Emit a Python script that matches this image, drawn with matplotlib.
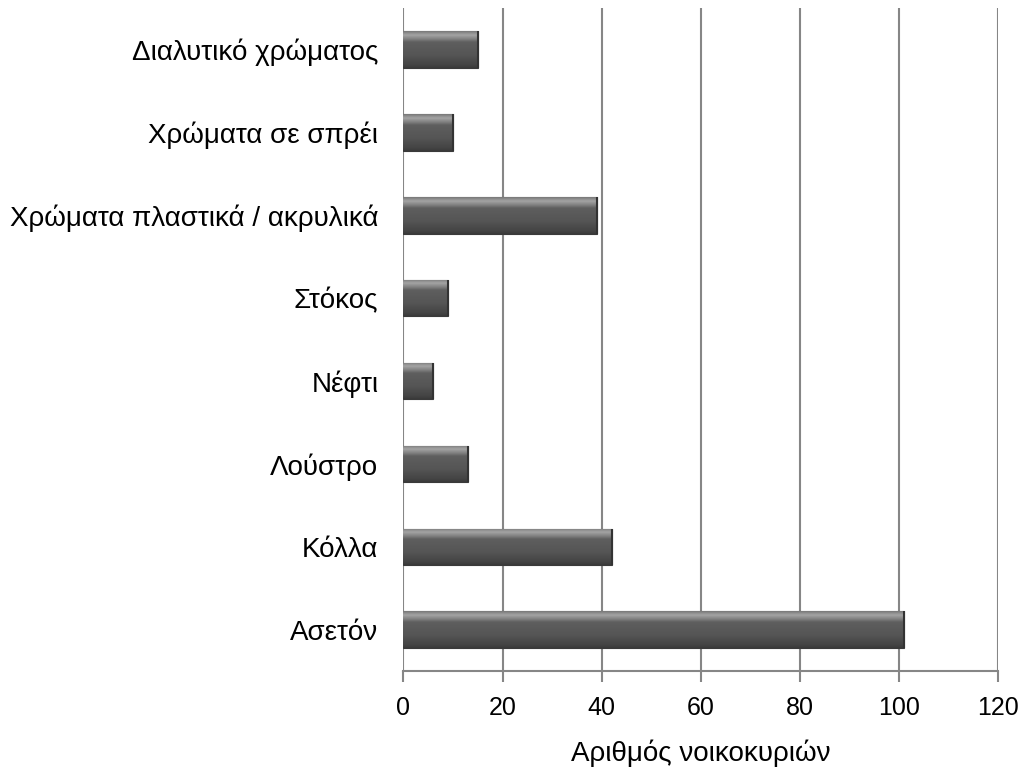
import numpy as np
import matplotlib.pyplot as plt
from matplotlib.colors import LinearSegmentedColormap

categories = ['Ασετόν', 'Κόλλα', 'Λούστρο', 'Νέφτι', 'Στόκος',
              'Χρώματα πλαστικά / ακρυλικά', 'Χρώματα σε σπρέι',
              'Διαλυτικό χρώματος']
households = [101, 42, 13, 6, 9, 39, 10, 15]
xticks = [0, 20, 40, 60, 80, 100, 120]

plt.rcParams['font.family'] = ['Liberation Sans', 'DejaVu Sans']

fig = plt.figure(figsize=(10.24, 7.78), dpi=100, facecolor='white')
ax = fig.add_axes([0.394, 0.1375, 0.581, 0.852])

bar_h = 0.44
y = np.arange(len(categories))
bars = ax.barh(y, households, height=bar_h, color='#5a5a5a',
               edgecolor='#3a3a3a', linewidth=0.8, zorder=3)

# bevel look: vertical gradient inside every bar
bevel = LinearSegmentedColormap.from_list('bevel', [
    (0.00, '#3a3a3a'), (0.08, '#444444'), (0.35, '#555555'),
    (0.70, '#5e5e5e'), (0.82, '#8a8a8a'), (0.90, '#a4a4a4'),
    (1.00, '#7a7a7a')])
grad = np.linspace(0, 1, 64).reshape(-1, 1)
for b in bars:
    x0, y0 = b.get_x(), b.get_y()
    w, h = b.get_width(), b.get_height()
    im = ax.imshow(grad, cmap=bevel, aspect='auto', origin='lower',
                   extent=[x0, x0 + w, y0, y0 + h], zorder=4,
                   interpolation='bilinear')
    im.set_clip_path(b)
    ax.plot([x0 + w, x0 + w], [y0, y0 + h], color='#333333', lw=1.5,
            zorder=5, solid_capstyle='butt')

ax.set_xlim(0, 120)
ax.set_ylim(-0.5, len(categories) - 0.5)
ax.set_xticks(xticks)
ax.set_yticks(y)
ax.set_yticklabels(categories, fontsize=20)
ax.tick_params(axis='y', length=0, pad=18)
ax.tick_params(axis='x', length=8, width=1.5, color='#868686',
               labelsize=18, pad=10)

ax.grid(axis='x', color='#868686', linewidth=1.5, zorder=0)
ax.set_axisbelow(True)
for side in ['top', 'right', 'left']:
    ax.spines[side].set_visible(False)
ax.spines['bottom'].set_color('#868686')
ax.spines['bottom'].set_linewidth(1.5)

ax.set_xlabel('Αριθμός νοικοκυριών', fontsize=20, labelpad=14)

fig.savefig('out.png', dpi=100, facecolor='white')
